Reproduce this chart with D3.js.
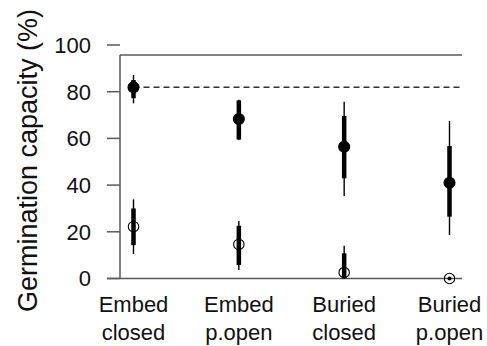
<!DOCTYPE html>
<html><head><meta charset="utf-8">
<script src="https://cdn.jsdelivr.net/npm/d3@7"></script>
<style>html,body{margin:0;padding:0;background:#fff;}svg{display:block;}</style>
</head><body>
<svg id="c" width="487" height="346"></svg>
<script>
const categories = ["Embed closed","Embed p.open","Buried closed","Buried p.open"];
const catLine1 = ["Embed","Embed","Buried","Buried"];
const catLine2 = ["closed","p.open","closed","p.open"];
const yTicks = [0,20,40,60,80,100];

// filled symbols
const filledMean = [81.9, 68.3, 56.4, 41.0];
const filledThickLo = [77.2, 59.5, 42.9, 26.5];
const filledThickHi = [85.0, 76.3, 69.6, 56.7];
const filledThinLo = [75.0, 59.3, 35.3, 18.6];
const filledThinHi = [87.2, 76.5, 75.7, 67.5];

// open symbols
const openMean = [22.2, 14.6, 2.6, 0];
const openThickLo = [14.3, 5.8, 0, 0];
const openThickHi = [30.0, 22.6, 10.8, 0];
const openThinLo = [10.5, 3.6, 0, 0];
const openThinHi = [33.9, 24.6, 14.0, 0];

const refSolid = 95.7;
const refDashed = 81.9;

const svg = d3.select("#c");
const font = "'Liberation Sans', Arial, sans-serif";
const x = d3.scalePoint().domain(categories).range([133.5, 449.5]);
const y = d3.scaleLinear().domain([0,100]).range([278.5, 45]);
const axisColor = "#5a5a5a";
const xL = 120, xR = 462;

// frame
svg.append("line").attr("x1", xL).attr("x2", xL).attr("y1", y(0)).attr("y2", y(refSolid))
  .attr("stroke", axisColor).attr("stroke-width", 1.5);
svg.append("line").attr("x1", 107).attr("x2", xR).attr("y1", y(0)).attr("y2", y(0))
  .attr("stroke", axisColor).attr("stroke-width", 1.5);
svg.append("line").attr("x1", xL).attr("x2", xR).attr("y1", y(refSolid)).attr("y2", y(refSolid))
  .attr("stroke", axisColor).attr("stroke-width", 1.5);
svg.append("line").attr("x1", x(categories[0])).attr("x2", xR).attr("y1", y(refDashed)).attr("y2", y(refDashed))
  .attr("stroke", "#333").attr("stroke-width", 1.4).attr("stroke-dasharray", "6,4");

// y axis ticks
const ya = svg.append("g");
ya.selectAll("line").data(yTicks).join("line")
  .attr("x1", 107).attr("x2", xL).attr("y1", d => y(d)).attr("y2", d => y(d))
  .attr("stroke", axisColor).attr("stroke-width", 1.5);
ya.selectAll("text").data(yTicks).join("text")
  .attr("x", 91).attr("y", d => y(d)).attr("dy", "0.36em")
  .attr("text-anchor", "end").attr("font-family", font).attr("font-size", 22)
  .attr("fill", "#111").text(d => d);

// y label
svg.append("text").attr("transform", "translate(37,160.5) rotate(-90)")
  .attr("text-anchor", "middle").attr("font-family", font).attr("font-size", 27)
  .attr("fill", "#111").text("Germination capacity (%)");

// x labels
const xl = svg.append("g");
categories.forEach((c, i) => {
  const t = xl.append("text").attr("x", x(c)).attr("text-anchor", "middle")
    .attr("font-family", font).attr("font-size", 22).attr("fill", "#111");
  t.append("tspan").attr("x", x(c)).attr("y", 311.5).text(catLine1[i]);
  t.append("tspan").attr("x", x(c)).attr("y", 340).text(catLine2[i]);
});

function drawSeries(mean, thinLo, thinHi, thickLo, thickHi, filled) {
  const g = svg.append("g");
  g.selectAll(".thin").data(categories).join("line")
    .attr("x1", d => x(d)).attr("x2", d => x(d))
    .attr("y1", (d,i) => y(thinLo[i])).attr("y2", (d,i) => y(thinHi[i]))
    .attr("stroke", "#000").attr("stroke-width", 1.4);
  g.selectAll(".thick").data(categories).join("line")
    .attr("x1", d => x(d)).attr("x2", d => x(d))
    .attr("y1", (d,i) => y(thickLo[i])).attr("y2", (d,i) => y(thickHi[i]))
    .attr("stroke", "#000").attr("stroke-width", 4.5);
  g.selectAll("circle.pt").data(categories).join("circle")
    .attr("class", "pt")
    .attr("cx", d => x(d)).attr("cy", (d,i) => y(mean[i])).attr("r", filled ? 5.5 : 5.2)
    .attr("fill", filled ? "#000" : "none").attr("stroke", "#000").attr("stroke-width", 1.1);
  if (!filled) {
    // zero-width intervals appear as a dot
    g.selectAll("circle.dot").data(categories.filter((d,i) => thickHi[i] === thickLo[i]))
      .join("circle").attr("class","dot")
      .attr("cx", d => x(d)).attr("cy", d => y(mean[categories.indexOf(d)])).attr("r", 2)
      .attr("fill", "#000");
  }
}
drawSeries(filledMean, filledThinLo, filledThinHi, filledThickLo, filledThickHi, true);
drawSeries(openMean, openThinLo, openThinHi, openThickLo, openThickHi, false);
</script>
</body></html>
